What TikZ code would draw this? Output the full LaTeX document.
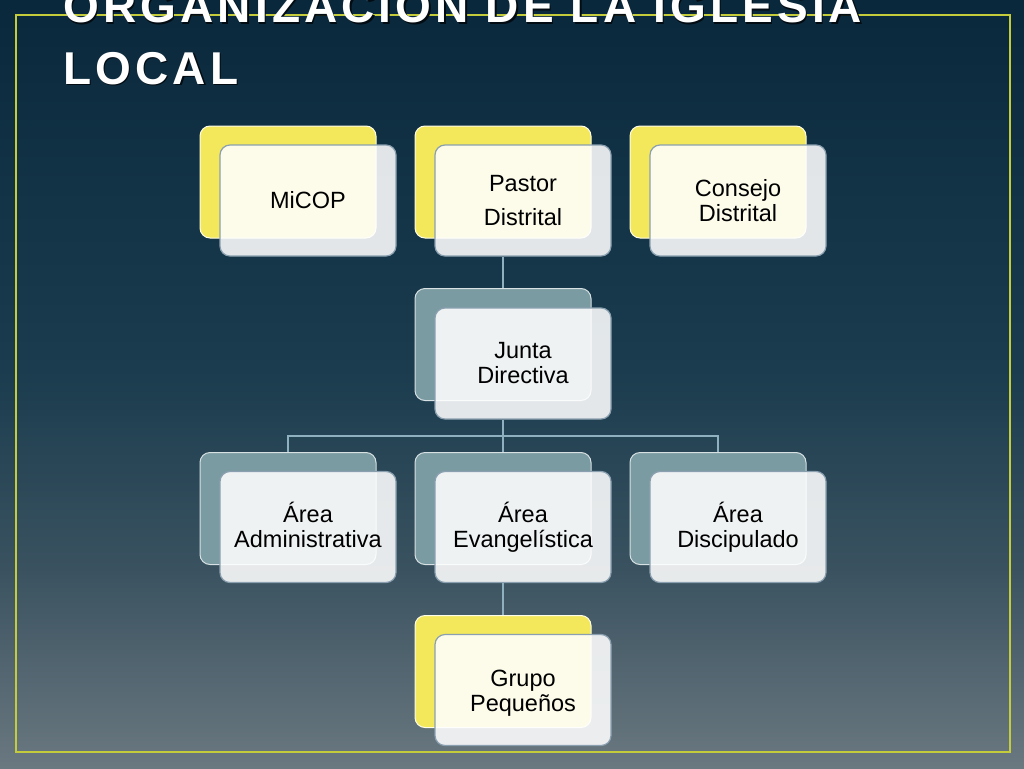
\documentclass[tikz,border=0pt]{standalone}
\usepackage{fontspec}
\setmainfont{Liberation Sans}
\newfontfamily\titlefont[LetterSpace=9]{Liberation Sans Bold}
\definecolor{bgT}{RGB}{10,40,60}
\definecolor{bgM2}{RGB}{26,60,78}
\definecolor{bgM1}{RGB}{58,82,96}
\definecolor{bgB}{RGB}{106,120,128}
\definecolor{framecol}{RGB}{196,204,60}
\definecolor{cardY}{RGB}{243,232,92}
\definecolor{cardG}{RGB}{123,155,162}
\definecolor{frontline}{RGB}{138,160,176}
\definecolor{conncol}{RGB}{143,176,191}
\pgfdeclareverticalshading{bgshade}{100bp}{color(0bp)=(bgB); color(25bp)=(bgB); color(38bp)=(bgM1); color(51bp)=(bgM2); color(75bp)=(bgT); color(100bp)=(bgT)}
\tikzset{
  card/.style={rectangle, rounded corners=10pt, minimum width=176pt, minimum height=112pt, inner sep=0pt},
  backY/.style={card, fill=cardY, draw=white!85!cardY, line width=1pt},
  backG/.style={card, fill=cardG, draw=white!70!cardG, line width=1pt},
  front/.style={card, minimum height=111pt, fill=white, fill opacity=0.88, text opacity=1, draw=frontline, line width=1.2pt, align=center, font=\fontsize{23.5}{25}\selectfont, text=black},
  conn/.style={draw=conncol, line width=1.3pt},
  titletext/.style={anchor=base west, inner sep=0pt, font=\titlefont\fontsize{46}{50}\selectfont}
}
\begin{document}
\begin{tikzpicture}[x=1pt,y=-1pt]
\useasboundingbox (0,0) rectangle (1024,768);
\clip (0,0) rectangle (1024,768);
\fill[shading=bgshade] (0,0) rectangle (1024,768);
\draw[framecol, line width=2pt] (16,15) rectangle (1010,752);
% title
\node[titletext, text=black!70!bgT] (t1s) at (64.5,24.5) {ORGANIZACIÓN DE LA IGLESIA};
\node[titletext, text=black!70!bgT] (t2s) at (64.5,85.5) {LOCAL};
\node[titletext, text=white] (t1) at (63,23) {ORGANIZACIÓN DE LA IGLESIA};
\node[titletext, text=white] (t2) at (63,84) {LOCAL};
% back cards
\node[backY] (micopB) at (288,182) {};
\node[backY] (pastorB) at (503,182) {};
\node[backY] (consejoB) at (718,182) {};
\node[backG] (juntaB) at (503,344.5) {};
\node[backG] (adminB) at (288,508.5) {};
\node[backG] (evanB) at (503,508.5) {};
\node[backG] (discB) at (718,508.5) {};
\node[backY] (grupoB) at (503,671.5) {};
% front cards
\node[front] (micopF) at (308,200.5) {MiCOP};
\node[front, font=\fontsize{23.5}{34}\selectfont] (pastorF) at (523,200.5) {Pastor\\Distrital};
\node[front] (consejoF) at (738,200.5) {Consejo\\Distrital};
\node[front] (juntaF) at (523,363.5) {Junta\\Directiva};
\node[front] (adminF) at (308,527) {Área\\Administrativa\vphantom{g}};
\node[front] (evanF) at (523,527) {Área\\Evangelística};
\node[front] (discF) at (738,527) {Área\\Discipulado};
\node[front] (grupoF) at (523,690) {\rule{0pt}{23pt}Grupo\\Pequeños};
% connectors
\coordinate (bar) at (503,436);
\draw[conn] (pastorB.center |- pastorF.south) -- (juntaB.north);
\draw[conn] (juntaB.center |- juntaF.south) -- (bar);
\draw[conn] (adminB.north) -- (adminB.north |- bar) -- (discB.north |- bar) -- (discB.north);
\draw[conn] (bar) -- (evanB.north);
\draw[conn] (evanB.center |- evanF.south) -- (grupoB.north);
\end{tikzpicture}
\end{document}
